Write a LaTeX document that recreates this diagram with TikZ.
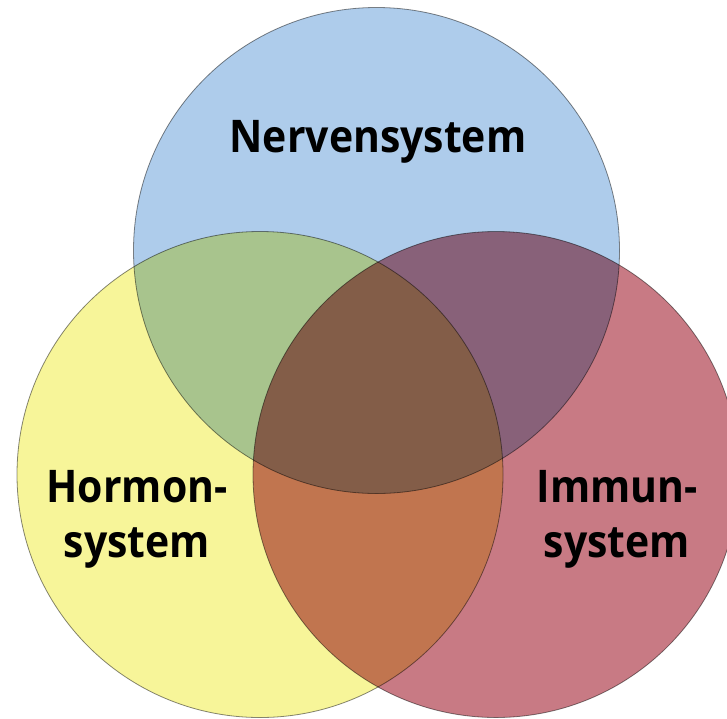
\documentclass[tikz,border=0pt]{standalone}
\usepackage{fontspec}
\setmainfont{Open Sans}
\newfontfamily\tagfamily[FakeStretch=0.91]{Open Sans}
\usetikzlibrary{positioning}

\definecolor{nervblue}{RGB}{174,204,235}
\definecolor{hormyellow}{RGB}{247,245,153}
\definecolor{immunred}{RGB}{200,122,132}
\definecolor{ringline}{RGB}{135,135,135}
\newcommand{\labelfont}{\tagfamily\bfseries\fontsize{45}{55}\selectfont}

\tikzset{
  ring/.style={circle, minimum size=486pt, inner sep=0pt, outer sep=0pt, draw=ringline, line width=0.8pt},
  tag/.style={font=\labelfont, align=center, inner sep=0pt}
}

\begin{document}
\begin{tikzpicture}[x=1pt, y=-1pt]
\useasboundingbox (0,0) rectangle (727,718);
\clip (0,0) rectangle (727,718);

\begin{scope}[blend group=multiply]
\node[ring, fill=nervblue](nerven) at (376.5,250.5) {};
\node[ring, fill=hormyellow](hormon) at (260,474.5) {};
\node[ring, fill=immunred](immun) at (496,474.5) {};
\end{scope}

\node[tag, anchor=base](nerventext) at (378,152) {Nervensystem};
\node[tag, anchor=base](hormontext) at (137,557) {Hormon-\\system};
\node[tag, anchor=base](immuntext) at (617,557) {Immun-\\system};
\end{tikzpicture}
\end{document}
